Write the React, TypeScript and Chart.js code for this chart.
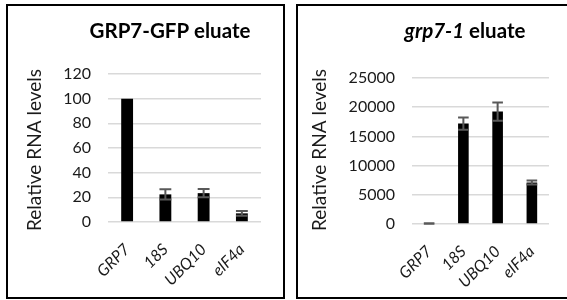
import React, { useEffect, useRef } from "react";
import { Chart, registerables } from "chart.js";

Chart.register(...registerables);
Chart.defaults.font.family = "Lato";

const categories = ["GRP7", "18S", "UBQ10", "eIF4a"];

const gfpValues = [100, 22.4, 23.4, 7.0];
const gfpErrors = [0, 4.1, 3.3, 2.0];
const gfpTickMax = 120;
const gfpTickStep = 20;

const mutantValues = [100, 17200, 19250, 7100];
const mutantErrors = [40, 1050, 1550, 350];
const mutantTickMax = 25000;
const mutantTickStep = 5000;

const yAxisTitle = "Relative RNA levels";

type TitlePart = { text: string; italic: boolean };

type PanelProps = {
  left: number;
  width: number;
  values: number[];
  errors: number[];
  max: number;
  step: number;
  title: TitlePart[];
  titleCx: number;
  yTitleCx: number;
  axisWidth: number;
  padRight: number;
  padTop: number;
  xHeight: number;
  tickSize: number;
};

const HEIGHT = 291;

function Panel(p: PanelProps) {
  const ref = useRef<HTMLCanvasElement | null>(null);
  useEffect(() => {
    if (!ref.current) return;
    const errorBars = {
      id: "errorBars",
      afterDatasetsDraw(chart: any) {
        const meta = chart.getDatasetMeta(0);
        const ys = chart.scales.y;
        const ctx = chart.ctx;
        ctx.save();
        ctx.strokeStyle = "#595959";
        ctx.lineWidth = 2;
        meta.data.forEach((bar: any, i: number) => {
          const v = p.values[i];
          const e = p.errors[i];
          if (!e) return;
          const yTop = ys.getPixelForValue(v + e);
          const yBot = ys.getPixelForValue(Math.max(0, v - e));
          const half = bar.width / 2;
          ctx.beginPath();
          ctx.moveTo(bar.x, yTop);
          ctx.lineTo(bar.x, yBot);
          ctx.moveTo(bar.x - half, yTop);
          ctx.lineTo(bar.x + half, yTop);
          ctx.moveTo(bar.x - half, yBot);
          ctx.lineTo(bar.x + half, yBot);
          ctx.stroke();
        });
        ctx.restore();
      },
    };
    const texts = {
      id: "texts",
      afterDraw(chart: any) {
        const ctx = chart.ctx;
        ctx.save();
        ctx.fillStyle = "#000";
        ctx.textBaseline = "alphabetic";
        ctx.textAlign = "left";
        const fonts = p.title.map(
          (t) => `${t.italic ? "italic " : ""}bold 20.5px Lato`
        );
        let total = 0;
        const widths = p.title.map((t, i) => {
          ctx.font = fonts[i];
          const w = ctx.measureText(t.text).width;
          total += w;
          return w;
        });
        let x = p.titleCx - total / 2;
        p.title.forEach((t, i) => {
          ctx.font = fonts[i];
          ctx.fillText(t.text, x, 32);
          x += widths[i];
        });
        ctx.translate(p.yTitleCx, 144);
        ctx.rotate(-Math.PI / 2);
        ctx.font = "19px Lato";
        ctx.textAlign = "center";
        ctx.textBaseline = "middle";
        ctx.fillStyle = "#1a1a1a";
        ctx.fillText(yAxisTitle, 0, 0);
        ctx.restore();
      },
    };
    const chart = new Chart(ref.current, {
      type: "bar",
      data: {
        labels: categories,
        datasets: [
          {
            data: p.values,
            backgroundColor: "#000",
            categoryPercentage: 0.31,
            barPercentage: 1,
          },
        ],
      },
      options: {
        responsive: false,
        animation: false,
        layout: { padding: { top: p.padTop, right: p.padRight, left: 0, bottom: 0 } },
        plugins: { legend: { display: false }, tooltip: { enabled: false }, title: { display: false } },
        scales: {
          x: {
            grid: { display: false },
            border: { display: false },
            ticks: {
              minRotation: 45,
              maxRotation: 45,
              padding: 10,
              color: "#1a1a1a",
              font: { size: 16, style: "italic" },
            },
            afterFit: (s: any) => {
              s.height = p.xHeight;
            },
          },
          y: {
            min: 0,
            max: p.max,
            border: { display: false },
            grid: { color: "#d9d9d9", lineWidth: 1.5, drawTicks: false },
            ticks: {
              stepSize: p.step,
              padding: 17,
              color: "#1a1a1a",
              font: { size: p.tickSize },
              callback: (v: any) => String(v),
            },
            afterFit: (s: any) => {
              s.width = p.axisWidth;
            },
          },
        },
      },
      plugins: [errorBars, texts],
    });
    return () => chart.destroy();
  }, []);
  return (
    <div
      style={{
        position: "absolute",
        left: p.left,
        top: 4,
        width: p.width,
        height: HEIGHT,
        border: "2px solid #000",
        background: "#fff",
      }}
    >
      <canvas ref={ref} width={p.width} height={HEIGHT} style={{ display: "block" }} />
    </div>
  );
}

export default function App() {
  return (
    <div
      style={{
        position: "fixed",
        left: 0,
        top: 0,
        width: 567,
        height: 300,
        overflow: "hidden",
        background: "#fff",
      }}
    >
      <Panel
        left={6}
        width={275}
        values={gfpValues}
        errors={gfpErrors}
        max={gfpTickMax}
        step={gfpTickStep}
        title={[{ text: "GRP7-GFP eluate", italic: false }]}
        titleCx={162}
        yTitleCx={26.5}
        axisWidth={100}
        padRight={22}
        padTop={68}
        xHeight={75}
        tickSize={16}
      />
      <Panel
        left={296}
        width={276}
        values={mutantValues}
        errors={mutantErrors}
        max={mutantTickMax}
        step={mutantTickStep}
        title={[
          { text: "grp7-1", italic: true },
          { text: " eluate", italic: false },
        ]}
        titleCx={167}
        yTitleCx={21.5}
        axisWidth={114}
        padRight={25}
        padTop={72}
        xHeight={73}
        tickSize={16}
      />
    </div>
  );
}
